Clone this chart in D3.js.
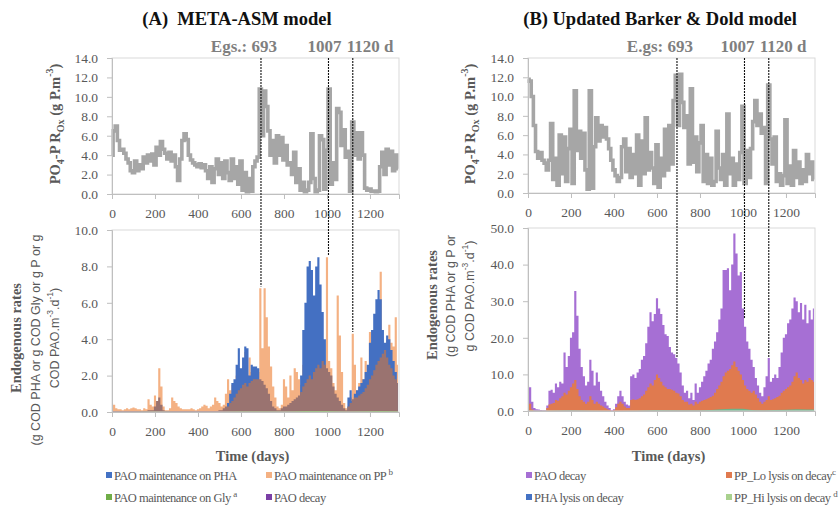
<!DOCTYPE html>
<html><head><meta charset="utf-8">
<script src="https://cdn.jsdelivr.net/npm/d3@7"></script>
<style>
body{margin:0;background:#fff}
svg{display:block}
</style>
</head><body>
<svg id="chart" width="840" height="513"></svg>
<script>
// ---------- DATA (sampled every 10 days, day 0 .. 1330) ----------
const sampleStep = 10;
const xTicks = [0, 200, 400, 600, 800, 1000, 1200];
const yTicksTop = [0, 2, 4, 6, 8, 10, 12, 14];
const yTicksBotA = [0, 2, 4, 6, 8, 10];
const yTicksBotB = [0, 10, 20, 30, 40, 50];
const eventDays = [693, 1007, 1120];
const eventLabelsA = ["Egs.: 693", "1007", "1120 d"];
const eventLabelsB = ["E.gs: 693", "1007", "1120 d"];
const eventEndA = [6.9, 8.6, 4.4];     // value where dashed line stops (lower panel A)
const eventEndB = [14.7, 25.4, 14.7];  // value where dashed line stops (lower panel B)

// (A) PO4-P ROx
const poA = [
 4.0,6.5,7.0,5.5,4.5,4.6,4.2,3.6,3.2,2.4,
 2.2,3.4,2.4,3.0,2.6,3.8,3.2,4.0,3.4,4.1,
 3.0,4.8,4.0,5.4,4.6,4.2,3.6,4.3,3.4,4.0,
 2.8,1.4,3.6,5.5,6.2,5.6,4.0,3.5,3.2,3.0,
 2.8,3.1,2.7,3.0,2.4,1.6,2.8,1.2,2.6,3.6,
 2.0,3.2,1.6,3.4,2.2,1.4,3.6,1.6,2.8,1.0,
 3.4,0.4,2.2,0.2,1.6,0.3,2.8,3.4,3.8,10.8,
 6.0,10.6,9.0,6.5,4.0,5.5,3.2,6.0,4.0,5.8,
 3.5,5.0,3.0,3.2,2.0,4.3,1.2,2.6,0.4,1.2,
 0.2,0.4,1.2,6.2,1.6,0.2,0.4,6.0,5.6,0.5,
 4.5,10.8,1.0,3.2,1.5,8.8,8.4,5.0,6.6,3.8,
 4.4,0.3,7.4,4.0,6.3,3.6,6.3,4.0,0.6,0.4,
 0.5,0.3,0.3,0.2,0.3,2.8,4.3,2.0,4.6,3.0,
 4.4,2.4,4.0,2.6];

// (B) PO4-P ROx
const poB = [
 11.8,11.6,10.0,7.0,4.3,3.6,4.2,3.4,3.1,2.4,
 3.4,7.2,1.4,3.6,0.8,6.0,2.0,5.8,1.2,4.6,
 6.6,1.0,10.6,4.4,6.4,3.6,6.2,2.4,0.4,10.6,
 0.5,4.8,7.8,5.4,7.0,5.8,6.8,5.6,4.6,3.4,
 2.4,1.8,1.2,1.6,4.8,5.6,2.2,4.6,1.6,4.0,
 2.0,6.0,0.8,5.4,2.0,7.8,2.4,4.2,2.6,1.0,
 5.0,0.6,3.6,1.8,6.6,2.4,7.0,3.0,9.6,12.2,
 7.0,12.3,9.4,6.8,8.0,3.0,10.8,3.2,5.8,2.2,
 5.2,7.0,1.2,4.0,1.0,3.6,0.8,1.2,6.4,2.6,
 1.4,4.0,0.8,8.2,2.0,3.6,0.8,3.0,1.4,4.2,
 9.0,1.0,4.4,1.6,4.6,7.4,9.6,7.0,8.2,6.2,
 6.8,1.0,11.2,5.6,3.0,5.8,1.2,2.0,0.8,1.8,
 7.6,1.0,2.8,0.8,4.4,1.6,3.2,1.0,2.4,1.2,
 4.0,2.0,3.2,1.4];

// (A) PAO maintenance on PHA
const maintPHA = [
 0,0,0,0,0,0,0,0,0,0,
 0,0,0,0,0,0,0,0,0,0,
 0,0,0,0,0,0,0,0,0,0,
 0,0,0,0,0,0,0,0,0,0,
 0,0,0,0,0,0,0,0,0,0,
 0,0,0,0,0.5,1.0,1.6,1.8,2.6,3.5,
 2.4,3.0,3.6,3.5,2.0,2.6,2.5,2.5,2.4,1.5,
 0,0,0,0,0,0,0,0,0,0,
 0,0,0,0,0,0,0,0.3,2.0,4.5,
 6.0,8.0,8.3,7.8,6.4,8.0,8.5,7.0,5.5,4.0,
 1.5,0.3,0,0,0,0,0,0,0,0,
 0.8,1.2,0.6,1.0,1.2,1.4,1.6,1.8,2.2,2.6,
 3.8,4.5,5.4,6.2,6.7,6.2,4.5,3.8,4.2,4.0,
 3.4,2.8,2.2,1.6];

// (A) PAO maintenance on PP
const maintPP = [
 0.5,0.4,0.2,0.15,0.15,0.1,0.15,0.2,0.15,0.2,
 0.25,0.2,0.15,0.15,0.1,0.2,0.15,0.7,0.4,0.3,
 0.9,0.5,2.4,1.4,0.3,0.1,0.1,0.2,0.8,0.6,
 0.5,0.3,0.2,0.15,0.15,0.15,0.15,0.2,0.15,0.1,
 0.15,0.2,0.3,0.4,0.35,0.2,0.3,0.4,0.8,0.6,
 0.5,0.3,0.4,1.0,1.8,1.2,1.5,1.0,2.0,1.5,
 1.8,2.5,3.3,2.0,3.0,2.2,2.0,1.8,2.2,6.8,
 3.5,6.8,5.2,3.6,2.5,1.4,0.8,0.3,0.2,0.4,
 1.8,1.4,0.8,2.0,1.2,2.4,2.2,1.8,1.5,2.6,
 2.2,3.0,2.6,2.4,2.8,2.4,2.6,2.8,2.6,2.2,
 8.5,2.8,2.4,1.6,1.2,6.4,4.2,2.2,0.5,0.2,
 0.3,0.8,4.3,2.6,1.2,1.6,3.0,1.8,2.8,2.0,
 4.4,2.6,3.0,3.4,3.6,7.7,4.0,3.6,4.0,4.8,
 3.8,3.6,5.2,2.6];

// (A) PAO decay
const decayA = [
 0.05,0.05,0.05,0.05,0.05,0.05,0.05,0.05,0.05,0.05,
 0.05,0.05,0.05,0.05,0.05,0.05,0.05,0.1,0.1,0.1,
 0.3,0.6,0.8,0.4,0.1,0.05,0.05,0.05,0.05,0.05,
 0.05,0.05,0.05,0.05,0.05,0.05,0.05,0.05,0.05,0.05,
 0.05,0.05,0.05,0.05,0.05,0.05,0.05,0.05,0.05,0.05,
 0.1,0.1,0.2,0.3,0.3,0.5,0.6,0.8,1.0,1.2,
 1.3,1.5,1.6,1.4,1.6,1.7,1.8,1.8,1.8,1.8,
 1.7,1.5,1.3,1.0,0.6,0.3,0.2,0.1,0.1,0.2,
 0.3,0.3,0.4,0.5,0.6,0.7,0.8,0.9,1.1,1.4,
 1.6,1.8,2.0,1.8,2.2,2.4,2.6,2.4,2.8,2.6,
 2.4,2.2,2.0,1.4,1.0,0.8,0.6,0.4,0.2,0.1,
 0.3,0.5,0.7,0.8,0.8,0.9,1.0,1.1,1.3,1.5,
 1.8,2.0,2.3,2.6,2.8,3.0,3.2,3.4,3.0,2.6,
 2.4,2.0,1.8,1.6];

// (B) PAO decay
const decayB = [
 7.0,6.5,2.5,0.8,0.5,0.4,0.3,0.2,0.2,1.5,
 5.5,5.8,5.0,7.5,6.5,8.0,7.5,16.0,12.0,15.0,
 20.0,21.5,32.8,26.0,17.0,12.0,9.5,7.0,8.0,14.0,
 11.0,7.0,10.5,8.0,5.5,4.0,2.5,1.5,0.8,0.2,
 0.5,2.0,4.0,5.5,4.0,2.5,1.8,1.5,9.5,10.0,
 9.0,10.5,11.5,14.0,15.0,18.5,23.0,27.0,24.5,26.5,
 30.8,28.0,26.5,23.5,21.0,20.5,17.5,16.0,15.5,14.5,
 13.0,10.5,7.0,5.0,5.5,3.5,5.0,3.0,7.5,5.0,
 6.5,8.0,9.5,11.0,13.0,14.0,17.0,19.0,21.5,25.0,
 28.0,38.5,38.5,39.0,33.0,40.0,48.5,43.0,37.0,38.0,
 28.0,23.0,19.0,17.0,14.0,12.0,9.0,7.0,5.0,4.0,
 6.5,9.5,14.5,8.0,9.0,10.0,9.0,12.0,16.0,20.0,
 21.0,24.0,25.0,28.0,31.0,30.0,27.0,29.5,25.0,29.0,
 24.0,27.5,25.0,28.0];

// (B) PP_Lo lysis on decay
const ppLo = [
 2.5,2.0,0.4,0.1,0.1,0.1,0.1,0.1,0.1,0.8,
 1.8,2.0,2.2,3.0,2.8,3.5,4.0,5.0,4.5,5.5,
 6.5,7.5,8.5,6.0,4.0,3.0,2.5,2.0,2.5,4.0,
 3.0,2.0,2.5,2.0,1.5,1.2,0.8,0.5,0.3,0.1,
 0.2,1.0,2.0,2.5,2.0,1.2,0.8,0.8,3.0,3.2,
 3.0,3.2,3.5,4.0,4.5,5.5,6.5,7.5,7.0,8.5,
 10.0,9.0,8.0,7.0,6.5,6.0,6.0,5.8,5.5,5.0,
 4.8,4.0,3.0,2.5,2.5,1.8,2.0,1.5,2.5,2.0,
 2.5,2.8,3.0,3.2,3.5,3.8,4.2,5.0,6.0,7.0,
 8.0,9.5,10.5,11.0,11.5,12.5,13.5,12.0,11.0,10.0,
 8.5,7.0,6.0,5.5,5.0,5.5,4.5,3.5,2.5,2.0,
 2.5,3.0,4.0,3.0,3.2,3.5,3.8,4.2,5.0,5.5,
 6.0,6.5,7.0,8.0,9.5,10.5,9.0,8.5,7.5,8.5,
 8.0,9.0,8.5,8.0];

// minor series, read at coarser days
const minorDays = [0,100,200,300,400,500,600,700,800,850,900,950,1000,1050,1100,1150,1200,1250,1300,1330];
const maintGly  = [0,0,0.02,0,0,0,0.03,0.03,0.02,0.03,0.05,0.05,0.05,0.03,0.02,0.03,0.04,0.05,0.04,0.03];
const phaLysis  = [0.02,0.02,0.05,0.02,0,0.02,0.05,0.05,0.05,0.1,0.1,0.1,0.1,0.05,0.05,0.05,0.1,0.1,0.1,0.1];
const ppHi      = [0.05,0.1,0.15,0.1,0,0.1,0.2,0.15,0.15,0.3,0.45,0.6,0.6,0.2,0.15,0.25,0.35,0.5,0.4,0.4];

// ---------- DRAWING ----------
const days = poA.map((d, i) => i * sampleStep);
const xMax = 1335;
const svg = d3.select("#chart");
const SERIF = "'Liberation Serif','Times New Roman',serif";
const SANS = "'Liberation Sans',Arial,sans-serif";
const TXT = "#595959";

const panels = {
  A: {x0: 112, x1: 399, top: [58, 194], bot: [230, 412], yBotMax: 10, yBotTicks: yTicksBotA},
  B: {x0: 528, x1: 815, top: [58, 193], bot: [228, 411], yBotMax: 50, yBotTicks: yTicksBotB}
};

function styleAxis(sel) {
  sel.attr("font-family", SERIF);
  sel.select(".domain").attr("stroke", "#bfbfbf");
  sel.selectAll(".tick line").attr("stroke", "#bfbfbf");
  sel.selectAll(".tick text").attr("fill", TXT).attr("font-family", SERIF).attr("font-size", "13.5px");
}

function frame(p, x, y, yTicks, yr) {
  svg.append("rect").attr("x", p.x0).attr("y", yr[0]).attr("width", p.x1 - p.x0).attr("height", yr[1] - yr[0])
    .attr("fill", "none").attr("stroke", "#d9d9d9");
  svg.append("g").attr("transform", `translate(0,${yr[1]})`)
    .call(d3.axisBottom(x).tickValues(xTicks).tickSize(5).tickPadding(9).tickFormat(d3.format("d")))
    .call(styleAxis);
  svg.append("g").attr("transform", `translate(${p.x0},0)`)
    .call(d3.axisLeft(y).tickValues(yTicks).tickSize(5).tickPadding(9).tickFormat(d3.format(".1f")))
    .call(styleAxis);
}

function build(key, po, lowerSeries, eventEnd, eventLabels, labelOffsets) {
  const p = panels[key];
  const x = d3.scaleLinear().domain([0, xMax]).range([p.x0, p.x1]);
  const yT = d3.scaleLinear().domain([0, 14]).range([p.top[1], p.top[0]]);
  const yB = d3.scaleLinear().domain([0, p.yBotMax]).range([p.bot[1], p.bot[0]]);

  // top line
  svg.append("path").datum(po)
    .attr("d", d3.line().curve(d3.curveStep).x((d, i) => x(days[i])).y(d => yT(d)))
    .attr("fill", "none").attr("stroke", "#a6a6a6").attr("stroke-width", 3.6).attr("stroke-linejoin", "miter");

  // lower areas
  lowerSeries.forEach(s => {
    const dd = s.days || days;
    svg.append("path").datum(s.values)
      .attr("d", d3.area().curve(s.days ? d3.curveLinear : d3.curveStep).x((d, i) => x(dd[i])).y0(yB(0)).y1(d => yB(d)))
      .attr("fill", s.color);
  });

  frame(p, x, yT, yTicksTop, p.top);
  frame(p, x, yB, p.yBotTicks, p.bot);

  // event lines
  eventDays.forEach((e, i) => {
    svg.append("line").attr("x1", x(e)).attr("x2", x(e)).attr("y1", p.top[0]).attr("y2", yB(eventEnd[i]))
      .attr("stroke", "#111").attr("stroke-width", 1.1).attr("stroke-dasharray", "2,1");
  });
  const anchors = ["end", "middle", "start"];
  eventDays.forEach((e, i) => {
    svg.append("text").attr("x", x(e) + labelOffsets[i]).attr("y", 52)
      .attr("text-anchor", anchors[i]).attr("font-family", SERIF).attr("font-weight", "bold")
      .attr("font-size", "17px").attr("fill", "#7f7f7f").text(eventLabels[i]);
  });

  // x title
  svg.append("text").attr("x", (p.x0 + p.x1) / 2 - 3).attr("y", 461).attr("text-anchor", "middle")
    .attr("font-family", SERIF).attr("font-weight", "bold").attr("font-size", "14.5px").attr("fill", TXT)
    .text("Time (days)");
  return {x, yT, yB};
}

build("A", poA, [
  {values: maintPP, color: "#f4b183"},
  {values: maintPHA, color: "#4470c2"},
  {values: decayA, color: "#9a7370"},
  {values: maintGly, days: minorDays, color: "#70ad47"}
], eventEndA, eventLabelsA, [16, -4, -6]);

build("B", poB, [
  {values: decayB, color: "#a66fd4"},
  {values: ppLo, color: "#e07a4f"},
  {values: phaLysis, days: minorDays, color: "#4472c4"},
  {values: ppHi, days: minorDays, color: "#6fb48a"}
], eventEndB, eventLabelsB, [16, -7, -9]);

// ---------- TITLES ----------
svg.append("text").attr("x", 237).attr("y", 25).attr("text-anchor", "middle")
  .attr("font-family", SERIF).attr("font-weight", "bold").attr("font-size", "18.5px").attr("fill", "#111")
  .attr("xml:space", "preserve").text("(A)  META-ASM model");
svg.append("text").attr("x", 660).attr("y", 25).attr("text-anchor", "middle")
  .attr("font-family", SERIF).attr("font-weight", "bold").attr("font-size", "18.5px").attr("fill", "#111")
  .text("(B) Updated Barker & Dold model");

// ---------- Y TITLES ----------
function poTitle(cx, cy) {
  const t = svg.append("text").attr("transform", `translate(${cx},${cy}) rotate(-90)`)
    .attr("text-anchor", "middle").attr("dominant-baseline", "central")
    .attr("font-family", SERIF).attr("font-weight", "bold").attr("font-size", "14.5px").attr("fill", TXT);
  t.append("tspan").text("PO");
  t.append("tspan").attr("baseline-shift", "sub").attr("font-size", "10px").text("4");
  t.append("tspan").text("-P R");
  t.append("tspan").attr("baseline-shift", "sub").attr("font-size", "10px").text("Ox");
  t.append("tspan").text(" (g P.m");
  t.append("tspan").attr("baseline-shift", "super").attr("font-size", "10px").text("-3");
  t.append("tspan").text(")");
}
poTitle(55, 124);
poTitle(470, 124);

function rotText(cx, cy, font, weight, size) {
  return svg.append("text").attr("transform", `translate(${cx},${cy}) rotate(-90)`)
    .attr("text-anchor", "middle").attr("dominant-baseline", "central")
    .attr("font-family", font).attr("font-weight", weight).attr("font-size", size).attr("fill", TXT);
}
function unitLine(t, pre) {
  t.append("tspan").text(pre);
  t.append("tspan").attr("baseline-shift", "super").attr("font-size", "8.5px").text("-3");
  t.append("tspan").text(".d");
  t.append("tspan").attr("baseline-shift", "super").attr("font-size", "8.5px").text("-1");
  t.append("tspan").text(")");
}
rotText(16, 338, SERIF, "bold", "14.5px").text("Endogenous rates");
rotText(36, 340, SANS, "normal", "12.5px").text("(g COD PHA or g COD Gly or g P or g");
unitLine(rotText(55, 338, SANS, "normal", "12.5px"), "COD PAO.m");
rotText(432, 305, SERIF, "bold", "14.5px").text("Endogenous rates");
rotText(451, 296, SANS, "normal", "12.5px").text("(g COD PHA or g P or");
unitLine(rotText(470, 296, SANS, "normal", "12.5px"), "g COD PAO.m");

// ---------- LEGENDS ----------
const legendA = [
  {label: "PAO maintenance on PHA", sup: "", color: "#4472c4", x: 106, row: 0},
  {label: "PAO maintenance on PP ", sup: "b", color: "#f4b183", x: 266, row: 0},
  {label: "PAO maintenance on Gly ", sup: "a", color: "#70ad47", x: 106, row: 1},
  {label: "PAO decay", sup: "", color: "#7b3fa6", x: 266, row: 1}
];
const legendB = [
  {label: "PAO decay", sup: "", color: "#a66fd4", x: 526, row: 0},
  {label: "PP_Lo lysis on decay", sup: "c", color: "#e07a4f", x: 726, row: 0},
  {label: "PHA lysis on decay", sup: "", color: "#4472c4", x: 526, row: 1},
  {label: "PP_Hi lysis on decay ", sup: "d", color: "#a9d18e", x: 726, row: 1}
];
const legendRowsY = [475, 497];
legendA.concat(legendB).forEach(it => {
  const cy = legendRowsY[it.row];
  svg.append("rect").attr("x", it.x).attr("y", cy - 3).attr("width", 6).attr("height", 6).attr("fill", it.color);
  const t = svg.append("text").attr("x", it.x + 8).attr("y", cy + 4.5)
    .attr("font-family", SERIF).attr("font-size", "12.5px").attr("letter-spacing", "-0.5px")
    .attr("fill", TXT).attr("xml:space", "preserve");
  t.append("tspan").text(it.label);
  if (it.sup) t.append("tspan").attr("baseline-shift", "super").attr("font-size", "9px").text(it.sup);
});
</script>
</body></html>
